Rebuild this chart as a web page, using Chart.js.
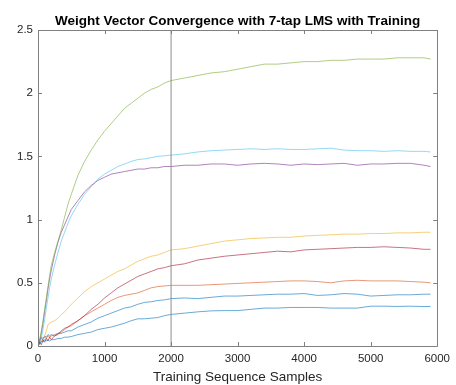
<!DOCTYPE html>
<html>
<head>
<meta charset="utf-8">
<title>Weight Vector Convergence</title>
<script src="https://cdn.jsdelivr.net/npm/chart.js@4/dist/chart.umd.min.js"></script>
<style>
  html, body { margin: 0; padding: 0; background: #fff; }
  canvas { display: block; }
</style>
</head>
<body>
<canvas id="weights-chart" width="456" height="385"></canvas>
<script>
// sample index shared by every tap trace
const samples = [0, 25, 50, 75, 100, 125, 150, 175, 200, 250, 300, 350, 400, 450, 500,
  600, 700, 800, 900, 1000, 1100, 1200, 1300, 1400, 1500, 1600, 1700, 1800, 1900, 2000,
  2200, 2400, 2600, 2800, 3000, 3200, 3400, 3600, 3800, 4000, 4200, 4400, 4600, 4800,
  5000, 5200, 5400, 5600, 5800, 5900];

// weight magnitudes per tap, in plot order
const tapA = [0, 0.05, 0.07, 0.06, 0.08, 0.07, 0.09, 0.08, 0.09, 0.08, 0.10, 0.10, 0.11, 0.12, 0.12,
  0.15, 0.17, 0.19, 0.22, 0.24, 0.26, 0.28, 0.30, 0.31, 0.33, 0.345, 0.35, 0.36, 0.365, 0.375,
  0.38, 0.375, 0.385, 0.395, 0.395, 0.40, 0.405, 0.41, 0.41, 0.415, 0.40, 0.405, 0.415, 0.41,
  0.395, 0.40, 0.405, 0.405, 0.41, 0.41];
const tapB = [0, 0.04, 0.06, 0.05, 0.07, 0.06, 0.08, 0.07, 0.08, 0.09, 0.10, 0.11, 0.13, 0.15, 0.16,
  0.20, 0.24, 0.27, 0.30, 0.33, 0.36, 0.385, 0.40, 0.41, 0.42, 0.44, 0.46, 0.47, 0.475, 0.48,
  0.48, 0.48, 0.485, 0.49, 0.495, 0.50, 0.505, 0.51, 0.515, 0.515, 0.51, 0.50, 0.515, 0.52,
  0.515, 0.515, 0.515, 0.51, 0.505, 0.50];
const tapC = [0, 0.02, 0.03, 0.05, 0.08, 0.12, 0.17, 0.18, 0.19, 0.20, 0.22, 0.25, 0.27, 0.30, 0.33,
  0.38, 0.43, 0.47, 0.50, 0.53, 0.56, 0.59, 0.61, 0.64, 0.67, 0.69, 0.71, 0.72, 0.74, 0.76,
  0.77, 0.79, 0.81, 0.83, 0.84, 0.85, 0.855, 0.86, 0.86, 0.87, 0.875, 0.88, 0.885, 0.885,
  0.89, 0.89, 0.895, 0.895, 0.90, 0.90];
const tapD = [0, 0.04, 0.10, 0.18, 0.27, 0.36, 0.45, 0.53, 0.60, 0.72, 0.82, 0.90, 0.96, 1.02, 1.08,
  1.15, 1.22, 1.27, 1.31, 1.335, 1.36, 1.37, 1.38, 1.39, 1.40, 1.40, 1.41, 1.41, 1.42, 1.42,
  1.43, 1.43, 1.44, 1.44, 1.43, 1.44, 1.445, 1.44, 1.43, 1.44, 1.435, 1.44, 1.445, 1.43,
  1.44, 1.44, 1.445, 1.445, 1.43, 1.42];
const tapE = [0, 0.05, 0.12, 0.20, 0.29, 0.38, 0.47, 0.56, 0.64, 0.74, 0.83, 0.92, 1.02, 1.12, 1.20,
  1.35, 1.46, 1.55, 1.63, 1.70, 1.76, 1.82, 1.88, 1.92, 1.96, 2.00, 2.03, 2.05, 2.08, 2.10,
  2.12, 2.14, 2.16, 2.17, 2.19, 2.21, 2.23, 2.23, 2.24, 2.25, 2.25, 2.26, 2.26, 2.27,
  2.27, 2.27, 2.28, 2.28, 2.28, 2.27];
const tapF = [0, 0.02, 0.06, 0.13, 0.21, 0.30, 0.38, 0.46, 0.53, 0.64, 0.74, 0.83, 0.90, 0.97, 1.03,
  1.12, 1.20, 1.26, 1.32, 1.36, 1.39, 1.42, 1.44, 1.46, 1.475, 1.48, 1.49, 1.50, 1.505, 1.51,
  1.52, 1.535, 1.545, 1.55, 1.555, 1.56, 1.555, 1.56, 1.555, 1.555, 1.56, 1.565, 1.55, 1.545,
  1.545, 1.54, 1.545, 1.54, 1.54, 1.535];
const tapG = [0, 0.03, 0.01, 0.05, 0.03, 0.06, 0.04, 0.07, 0.05, 0.08, 0.09, 0.12, 0.14, 0.15, 0.17,
  0.20, 0.24, 0.29, 0.33, 0.38, 0.42, 0.46, 0.49, 0.52, 0.55, 0.57, 0.59, 0.61, 0.62, 0.635,
  0.65, 0.68, 0.695, 0.71, 0.72, 0.73, 0.74, 0.75, 0.745, 0.76, 0.765, 0.77, 0.775, 0.78,
  0.78, 0.785, 0.78, 0.775, 0.765, 0.765];
const tapH = [0, 0.02, 0.04, 0.03, 0.05, 0.04, 0.05, 0.04, 0.05, 0.05, 0.06, 0.06, 0.07, 0.07, 0.075,
  0.09, 0.10, 0.11, 0.13, 0.14, 0.15, 0.165, 0.18, 0.20, 0.215, 0.215, 0.22, 0.225, 0.24, 0.25,
  0.26, 0.27, 0.278, 0.28, 0.28, 0.29, 0.30, 0.30, 0.305, 0.305, 0.305, 0.30, 0.30, 0.30,
  0.315, 0.315, 0.313, 0.315, 0.312, 0.313];

const xTicks = [0, 1000, 2000, 3000, 4000, 5000, 6000];
const yTicks = [0, 0.5, 1, 1.5, 2, 2.5];
const markerSample = 2000;
const chartTitle = 'Weight Vector Convergence with 7-tap LMS with Training';

const traces = [tapA, tapB, tapC, tapD, tapE, tapF, tapG, tapH];
// default line colour order, wrapping back to blue for the eighth trace
const palette = ['#0072BD', '#D95319', '#EDB120', '#7E2F8E', '#77AC30', '#4DBEEE', '#A2142F', '#0072BD'];

function fade(hex, a) {
    const n = parseInt(hex.slice(1), 16);
    return `rgba(${n >> 16}, ${(n >> 8) & 255}, ${n & 255}, ${a})`;
}

let datasets = traces.map((vals, i) => ({
    data: vals.map((v, k) => ({x: samples[k], y: v})),
    borderColor: fade(palette[i], 0.75),
    borderWidth: 0.8,
    pointRadius: 0,
    tension: 0,
    fill: false,
    order: traces.length - i
}));

// vertical marker at the end of the first training block
datasets.push({
    data: [{x: markerSample, y: yTicks[0]}, {x: markerSample, y: yTicks[yTicks.length - 1]}],
    borderColor: '#8c8c8c',
    borderWidth: 1,
    pointRadius: 0,
    order: 0
});

const textColor = '#262626';
const boxColor = '#808080';
const fontFamily = 'Liberation Sans, Arial, sans-serif';

// box around the axes with inward tick marks on all four sides,
// and the title centred over the plot area rather than the canvas
const boxTicks = {
    id: 'boxTicks',
    afterDatasetsDraw(chart) {
        const {ctx, chartArea: a, scales} = chart;
        const len = 4;
        ctx.save();
        ctx.strokeStyle = boxColor;
        ctx.lineWidth = 1;
        ctx.beginPath();
        ctx.rect(Math.round(a.left) + 0.5, Math.round(a.top) + 0.5,
                 Math.round(a.right - a.left), Math.round(a.bottom - a.top));
        xTicks.forEach(t => {
            const px = Math.round(scales.x.getPixelForValue(t)) + 0.5;
            ctx.moveTo(px, a.bottom); ctx.lineTo(px, a.bottom - len);
            ctx.moveTo(px, a.top); ctx.lineTo(px, a.top + len);
        });
        yTicks.forEach(t => {
            const py = Math.round(scales.y.getPixelForValue(t)) + 0.5;
            ctx.moveTo(a.left, py); ctx.lineTo(a.left + len, py);
            ctx.moveTo(a.right, py); ctx.lineTo(a.right - len, py);
        });
        ctx.stroke();

        ctx.fillStyle = '#000';
        ctx.font = `bold 13.5px ${fontFamily}`;
        ctx.textAlign = 'center';
        ctx.textBaseline = 'alphabetic';
        ctx.fillText(chartTitle, (a.left + a.right) / 2, a.top - 5);
        ctx.restore();
    }
};

const options = {
    responsive: false,
    animation: false,
    devicePixelRatio: 1,
    layout: {padding: {left: 0, right: 17, top: 30, bottom: 0}},
    plugins: {
        legend: {display: false},
        tooltip: {enabled: false},
        title: {display: false}
    },
    scales: {
        x: {
            type: 'linear',
            min: 0,
            max: 6000,
            afterBuildTicks: s => { s.ticks = xTicks.map(v => ({value: v})); },
            afterFit: s => { s.height = 39; },
            grid: {display: false, drawTicks: false},
            border: {display: false},
            ticks: {
                color: textColor,
                padding: 6,
                maxRotation: 0,
                font: {family: fontFamily, size: 11.5},
                callback: v => String(v)
            },
            title: {
                display: true,
                text: 'Training Sequence Samples',
                color: textColor,
                padding: {top: 1, bottom: 0},
                font: {family: fontFamily, size: 13.5}
            }
        },
        y: {
            type: 'linear',
            min: 0,
            max: 2.5,
            afterBuildTicks: s => { s.ticks = yTicks.map(v => ({value: v})); },
            afterFit: s => { s.width = 38; },
            grid: {display: false, drawTicks: false},
            border: {display: false},
            ticks: {
                color: textColor,
                padding: 5,
                font: {family: fontFamily, size: 11.5},
                callback: v => String(v)
            }
        }
    }
};

window.weightsChart = new Chart(document.getElementById('weights-chart').getContext('2d'), {
    type: 'line',
    data: {datasets: datasets},
    options: options,
    plugins: [boxTicks]
});
</script>
</body>
</html>
